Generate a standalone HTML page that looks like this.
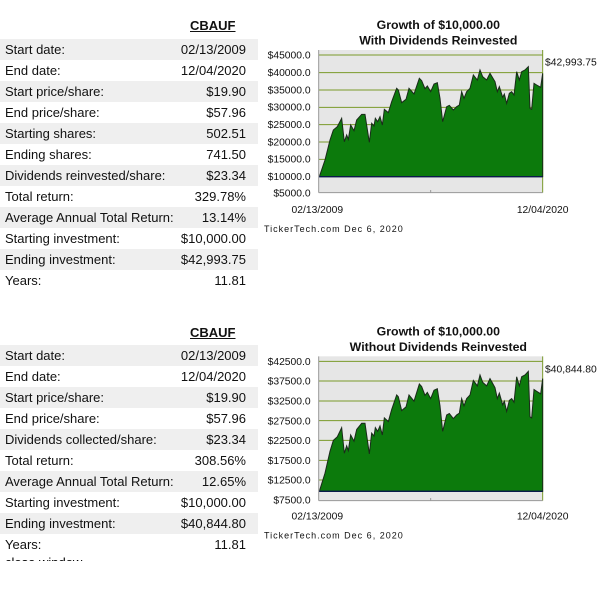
<!DOCTYPE html>
<html><head><style>
body{margin:0;width:600px;height:600px;overflow:hidden;background:#fff;font-family:"Liberation Sans",sans-serif;position:relative}
.t{position:absolute;left:0;width:258px}
.r{height:21px;line-height:21px;font-size:13px;color:#111;position:relative}
.r.g{background:#efefef}
.r span{position:absolute;left:5px}
.r b{position:absolute;right:12px;font-weight:normal}
.h{position:absolute;font-weight:bold;text-decoration:underline;font-size:13px;color:#111}
svg{position:absolute;left:260px}
</style></head><body>
<div class="h" style="left:190px;top:18px">CBAUF</div>
<div class="t" style="top:39px">
<div class="r g"><span>Start date:</span><b>02/13/2009</b></div>
<div class="r"><span>End date:</span><b>12/04/2020</b></div>
<div class="r g"><span>Start price/share:</span><b>$19.90</b></div>
<div class="r"><span>End price/share:</span><b>$57.96</b></div>
<div class="r g"><span>Starting shares:</span><b>502.51</b></div>
<div class="r"><span>Ending shares:</span><b>741.50</b></div>
<div class="r g"><span>Dividends reinvested/share:</span><b>$23.34</b></div>
<div class="r"><span>Total return:</span><b>329.78%</b></div>
<div class="r g"><span>Average Annual Total Return:</span><b>13.14%</b></div>
<div class="r"><span>Starting investment:</span><b>$10,000.00</b></div>
<div class="r g"><span>Ending investment:</span><b>$42,993.75</b></div>
<div class="r"><span>Years:</span><b>11.81</b></div>
</div>
<div class="h" style="left:190px;top:325px">CBAUF</div>
<div class="t" style="top:345px">
<div class="r g"><span>Start date:</span><b>02/13/2009</b></div>
<div class="r"><span>End date:</span><b>12/04/2020</b></div>
<div class="r g"><span>Start price/share:</span><b>$19.90</b></div>
<div class="r"><span>End price/share:</span><b>$57.96</b></div>
<div class="r g"><span>Dividends collected/share:</span><b>$23.34</b></div>
<div class="r"><span>Total return:</span><b>308.56%</b></div>
<div class="r g"><span>Average Annual Total Return:</span><b>12.65%</b></div>
<div class="r"><span>Starting investment:</span><b>$10,000.00</b></div>
<div class="r g"><span>Ending investment:</span><b>$40,844.80</b></div>
<div class="r"><span>Years:</span><b>11.81</b></div>
<div style="font-size:13px;padding-left:5px;line-height:14px;height:5px;overflow:hidden;margin-top:1px">close window</div>
</div>

<svg style="top:10px" width="340" height="230" viewBox="0 0 1020 690" font-family="Liberation Sans, sans-serif">
<rect x="176" y="120" width="672" height="428" fill="#e6e6e6"/>
<g stroke="#7a9a2a" stroke-width="3">
<line x1="176" y1="135" x2="848" y2="135"/><line x1="176" y1="188" x2="848" y2="188"/><line x1="176" y1="240" x2="848" y2="240"/><line x1="176" y1="292" x2="848" y2="292"/><line x1="176" y1="344" x2="848" y2="344"/><line x1="176" y1="396" x2="848" y2="396"/><line x1="176" y1="448" x2="848" y2="448"/>
<line x1="848" y1="120" x2="848" y2="548"/></g>
<path d="M178,500 L195,450 210,390 220,360 232,350 245,325 253,395 260,375 265,388 272,345 282,362 290,330 305,313 315,313 328,397 335,340 342,348 346,325 353,335 360,320 367,345 373,298 385,308 395,275 410,235 415,240 425,278 438,268 447,235 462,252 478,205 485,212 495,236 502,228 512,245 522,222 532,218 540,265 548,335 560,290 568,286 580,300 590,290 598,285 605,245 612,265 620,245 630,235 640,195 652,210 660,180 668,200 680,210 690,190 705,215 712,245 718,230 728,262 733,252 740,280 748,250 755,245 762,255 770,185 778,210 785,185 795,180 805,170 810,295 815,298 822,220 830,225 842,232 848,190 L848,500 Z" fill="#0c7a0c" stroke="#1a2a1a" stroke-width="3"/>
<line x1="176" y1="500" x2="848" y2="500" stroke="#0a1a4a" stroke-width="4"/>
<line x1="176" y1="548" x2="848" y2="548" stroke="#999" stroke-width="3"/>
<line x1="176" y1="120" x2="176" y2="548" stroke="#999" stroke-width="3"/>
<line x1="512" y1="540" x2="512" y2="548" stroke="#999" stroke-width="3"/>
<g font-size="37" font-weight="bold" text-anchor="middle" fill="#111"><text x="535" y="57">Growth of $10,000.00</text><text x="535" y="103">With Dividends Reinvested</text></g>
<g font-size="31" text-anchor="end" fill="#111"><text x="152" y="146">$45000.0</text><text x="152" y="198">$40000.0</text><text x="152" y="250">$35000.0</text><text x="152" y="302">$30000.0</text><text x="152" y="354">$25000.0</text><text x="152" y="406">$20000.0</text><text x="152" y="458">$15000.0</text><text x="152" y="510">$10000.0</text><text x="152" y="560">$5000.0</text></g>
<text x="855" y="167" font-size="31" fill="#111">$42,993.75</text>
<g font-size="31" fill="#111" text-anchor="middle"><text x="172" y="609">02/13/2009</text><text x="848" y="609">12/04/2020</text></g>
<text x="12" y="666" font-size="27" letter-spacing="3" fill="#111">TickerTech.com  Dec 6, 2020</text>
</svg>

<svg style="top:318px" width="340" height="230" viewBox="0 0 1020 690" font-family="Liberation Sans, sans-serif">
<rect x="176" y="115" width="672" height="433" fill="#e6e6e6"/>
<g stroke="#7a9a2a" stroke-width="3">
<line x1="176" y1="130" x2="848" y2="130"/><line x1="176" y1="189" x2="848" y2="189"/><line x1="176" y1="249" x2="848" y2="249"/><line x1="176" y1="308" x2="848" y2="308"/><line x1="176" y1="367" x2="848" y2="367"/><line x1="176" y1="427" x2="848" y2="427"/><line x1="176" y1="486" x2="848" y2="486"/>
<line x1="848" y1="115" x2="848" y2="548"/></g>
<g transform="translate(0,-25.45) scale(1,1.0909)">
<path d="M178,500 L195,450 210,390 220,360 232,350 245,325 253,395 260,375 265,388 272,345 282,362 290,330 305,313 315,313 328,397 335,340 342,348 346,325 353,335 360,320 367,345 373,298 385,308 395,275 410,235 415,240 425,278 438,268 447,235 462,252 478,205 485,212 495,236 502,228 512,245 522,222 532,218 540,265 548,335 560,290 568,286 580,300 590,290 598,285 605,245 612,265 620,245 630,235 640,195 652,210 660,180 668,200 680,210 690,190 705,215 712,245 718,230 728,262 733,252 740,280 748,250 755,245 762,255 770,185 778,210 785,185 795,180 805,170 810,295 815,298 822,220 830,225 842,232 848,190 L848,500 Z" fill="#0c7a0c" stroke="#1a2a1a" stroke-width="3"/></g>
<line x1="176" y1="520" x2="848" y2="520" stroke="#0a1a4a" stroke-width="4"/>
<line x1="176" y1="548" x2="848" y2="548" stroke="#999" stroke-width="3"/>
<line x1="176" y1="115" x2="176" y2="548" stroke="#999" stroke-width="3"/>
<line x1="512" y1="540" x2="512" y2="548" stroke="#999" stroke-width="3"/>
<g font-size="37" font-weight="bold" text-anchor="middle" fill="#111"><text x="535" y="53">Growth of $10,000.00</text><text x="535" y="99">Without Dividends Reinvested</text></g>
<g font-size="31" text-anchor="end" fill="#111"><text x="152" y="141">$42500.0</text><text x="152" y="200">$37500.0</text><text x="152" y="260">$32500.0</text><text x="152" y="319">$27500.0</text><text x="152" y="378">$22500.0</text><text x="152" y="438">$17500.0</text><text x="152" y="497">$12500.0</text><text x="152" y="557">$7500.0</text></g>
<text x="855" y="163" font-size="31" fill="#111">$40,844.80</text>
<g font-size="31" fill="#111" text-anchor="middle"><text x="172" y="604">02/13/2009</text><text x="848" y="604">12/04/2020</text></g>
<text x="12" y="661" font-size="27" letter-spacing="3" fill="#111">TickerTech.com  Dec 6, 2020</text>
</svg>
</body></html>
